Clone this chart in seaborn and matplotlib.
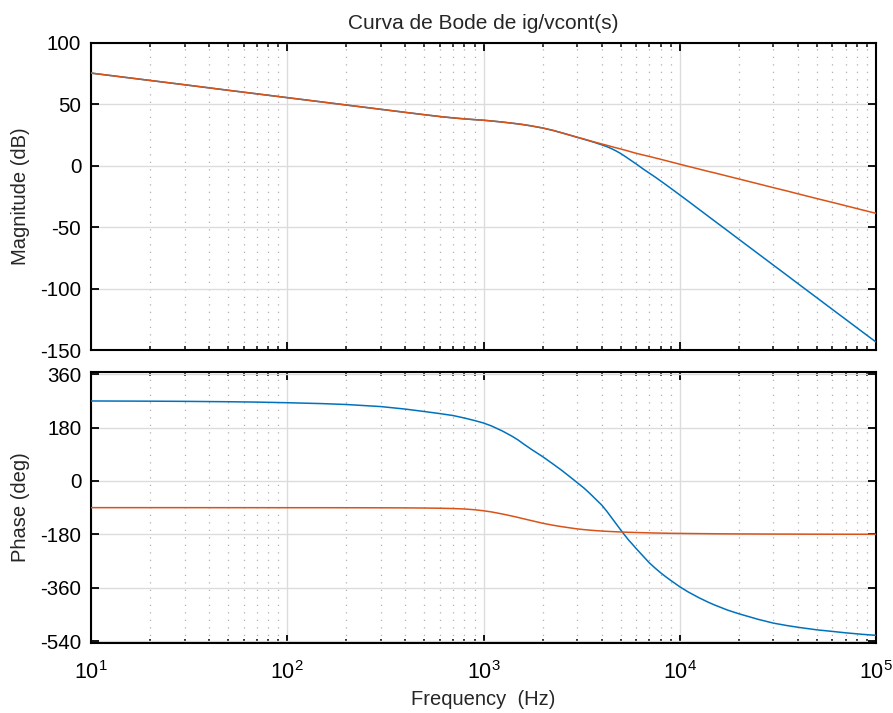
import numpy as np
import pandas as pd
import matplotlib
matplotlib.use("Agg")
import matplotlib.pyplot as plt
import seaborn as sns
from matplotlib.ticker import LogLocator, FixedLocator, NullFormatter

# ---------------- data ----------------
freq_hz = [10, 20, 30, 50, 70, 100, 150, 200, 300, 400, 500, 600, 700, 800, 900,
           1000, 1100, 1250, 1400, 1500, 1600, 1750, 2000, 2250, 2500, 2750, 3000,
           3250, 3500, 3750, 4000, 4250, 4500, 4750, 5000, 5250, 5500, 5750, 6000,
           6500, 7000, 7500, 8000, 8500, 9000, 10000, 11000, 12500, 14000, 15000,
           17500, 20000, 25000, 30000, 35000, 40000, 50000, 60000, 70000, 85000, 100000]

mag_orange_db = [75.5, 69.5, 66.0, 61.5, 58.6, 55.5, 52.0, 49.5, 46.0, 43.5, 41.6, 40.1, 39.0, 38.2, 37.6,
                 37.1, 36.5, 35.6, 34.7, 34.1, 33.5, 32.5, 30.8, 28.9, 26.9, 25.0, 23.3,
                 21.8, 20.3, 19.0, 17.8, 16.7, 15.6, 14.6, 13.7, 12.8, 11.9, 11.0, 10.2,
                 8.8, 7.6, 6.4, 5.3, 4.2, 3.2, 1.3, -0.4, -2.6, -4.6, -5.7,
                 -8.4, -10.7, -14.6, -17.8, -20.4, -22.8, -26.7, -29.8, -32.5, -35.9, -38.7]

mag_blue_db = [75.5, 69.5, 66.0, 61.5, 58.6, 55.5, 52.0, 49.5, 46.0, 43.5, 41.6, 40.1, 39.0, 38.2, 37.6,
               37.1, 36.5, 35.6, 34.7, 34.1, 33.5, 32.5, 30.8, 28.9, 26.9, 25.0, 23.2,
               21.6, 20.1, 18.6, 17.1, 15.6, 13.9, 12.0, 10.0, 7.8, 5.6, 3.5, 1.5,
               -2.5, -6.0, -9.2, -12.4, -15.4, -18.3, -23.7, -28.6, -35.3, -41.2, -44.8,
               -52.8, -59.8, -71.4, -80.9, -88.9, -95.9, -107.5, -117.0, -125.0, -135.1, -143.5]

phase_blue_deg = [269.4, 268.7, 268.1, 266.8, 265.6, 263.5, 260.5, 257.5, 250.5, 242.0, 233.8, 226.8, 220.3, 211.9, 203.5,
                  195.2, 185.0, 168.0, 150.3, 138.0, 124.6, 106.9, 82.0, 58.0, 36.0, 14.5, -5.5,
                  -24.0, -43.5, -63.0, -81.0, -102.3, -124.3, -145.2, -165.0, -183.2, -200.0, -214.0, -228.0,
                  -253.0, -276.0, -294.0, -309.7, -323.2, -335.2, -356.5, -373.4, -393.2, -408.9, -417.6,
                  -435.0, -447.5, -466.0, -479.0, -487.0, -493.0, -501.7, -507.0, -511.7, -516.7, -520.2]

phase_orange_deg = [-90.0, -90.0, -90.0, -90.1, -90.1, -90.2, -90.2, -90.3, -90.5, -90.8, -91.3, -92.0, -93.0, -94.5, -97.0,
                    -100.5, -104.5, -111.5, -118.5, -123.0, -127.5, -133.5, -142.5, -149.0, -154.0, -158.0, -161.5,
                    -164.0, -166.0, -167.5, -168.8, -169.8, -170.6, -171.3, -172.0, -172.5, -173.0, -173.4, -173.8,
                    -174.4, -175.0, -175.4, -175.8, -176.1, -176.4, -176.8, -177.1, -177.5, -177.8, -178.0,
                    -178.3, -178.5, -178.8, -179.0, -179.1, -179.2, -179.4, -179.5, -179.55, -179.6, -179.7]

series_names = ["sys1", "sys2"]
series_colors = {"sys1": "#0072BD", "sys2": "#D95319"}

mag_ticks = [-150, -100, -50, 0, 50, 100]
phase_ticks = [-540, -360, -180, 0, 180, 360]

title_text = "Curva de Bode de ig/vcont(s)"
mag_label = "Magnitude (dB)"
phase_label = "Phase (deg)"
freq_label = "Frequency  (Hz)"

# ---------------- tables ----------------
df = pd.concat([
    pd.DataFrame({"f": freq_hz, "mag": mag_blue_db, "phase": phase_blue_deg, "sys": series_names[0]}),
    pd.DataFrame({"f": freq_hz, "mag": mag_orange_db, "phase": phase_orange_deg, "sys": series_names[1]}),
], ignore_index=True)

# ---------------- style ----------------
sns.set_theme(style="white")
plt.rcParams["font.family"] = ["Liberation Sans", "DejaVu Sans"]
plt.rcParams["mathtext.fontset"] = "custom"
plt.rcParams["mathtext.rm"] = "Liberation Sans"
plt.rcParams["mathtext.it"] = "Liberation Sans"
plt.rcParams["mathtext.default"] = "regular"

fig = plt.figure(figsize=(8.93, 7.13), dpi=100)
ax1 = fig.add_axes([91/893, 1-350/713, (876-91)/893, (350-43)/713])
ax2 = fig.add_axes([91/893, 1-643/713, (876-91)/893, (643-372)/713])

for ax, col in ((ax1, "mag"), (ax2, "phase")):
    sns.lineplot(data=df, x="f", y=col, hue="sys", palette=series_colors,
                 estimator=None, sort=True, linewidth=1.1, legend=False, ax=ax, zorder=3)
    ax.set_xscale("log")
    ax.set_xlim(10, 1e5)
    ax.grid(True, which="major", axis="both", color="#dcdcdc", linewidth=1.0, zorder=0)
    ax.xaxis.set_minor_locator(LogLocator(base=10, subs=np.arange(2, 10), numticks=20))
    ax.xaxis.set_minor_formatter(NullFormatter())
    ax.grid(True, which="minor", axis="x", color="#b0b0b0", linewidth=0.9,
            linestyle=(0, (1, 5)), zorder=0)
    ax.tick_params(which="both", direction="in", top=True, right=True, bottom=True, left=True,
                   colors="black", labelsize=14.8)
    ax.tick_params(which="major", length=6, width=1.3)
    ax.tick_params(which="minor", length=3.2, width=1.1)
    ax.tick_params(axis="y", which="major", pad=7)
    ax.tick_params(axis="y", which="minor", left=False, right=False)
    for s in ax.spines.values():
        s.set_visible(True)
        s.set_color("black")
        s.set_linewidth(1.5)
    ax.set_axisbelow(True)

ax1.set_ylim(-150, 100)
ax1.yaxis.set_major_locator(FixedLocator(mag_ticks))
ax1.set_yticklabels([str(t) for t in mag_ticks])
ax1.set_xticklabels([])
ax1.set_xlabel("")
ax1.set_ylabel(mag_label, fontsize=14.5, labelpad=7)
ax1.set_title(title_text, fontsize=15, pad=10)

ax2.set_ylim(-546, 367)
ax2.yaxis.set_major_locator(FixedLocator(phase_ticks))
ax2.set_yticklabels([str(t) for t in phase_ticks])
ax2.set_xlabel(freq_label, fontsize=14.5, labelpad=4)
ax2.set_ylabel(phase_label, fontsize=14.5, labelpad=7)
ax2.tick_params(axis="x", which="major", pad=13, labelsize=15.5)

fig.savefig("out.png", dpi=100)
